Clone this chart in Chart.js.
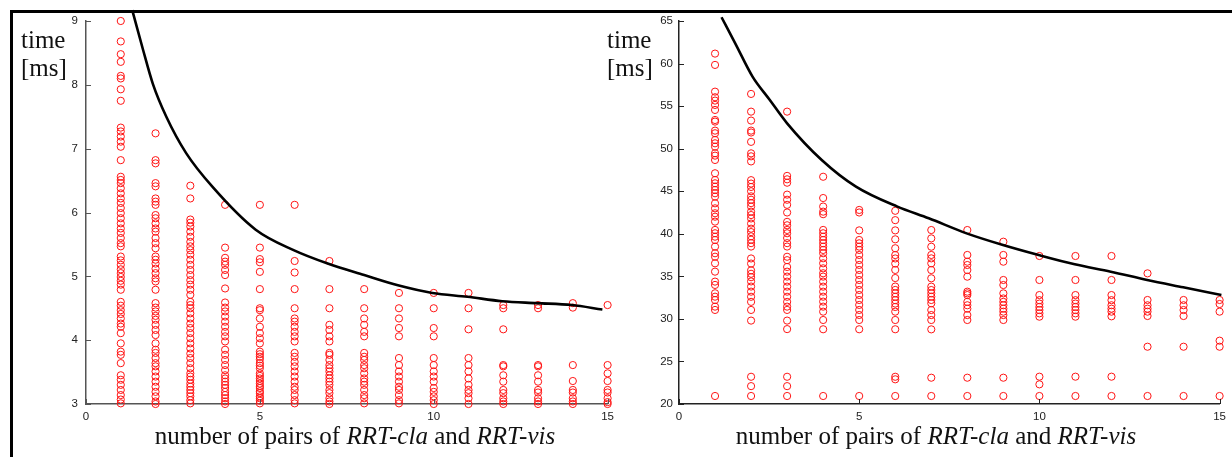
<!DOCTYPE html>
<html><head><meta charset="utf-8">
<script src="https://cdn.jsdelivr.net/npm/chart.js@4.4.1/dist/chart.umd.min.js"></script>
<style>
html,body{margin:0;padding:0;background:#fff;}
#wrap{position:relative;width:1232px;height:457px;overflow:hidden;background:#fff;}
.cv{position:absolute;top:0;}
.lbl{position:absolute;font-family:"Liberation Serif","Times New Roman",serif;font-size:25px;line-height:28px;color:#111;white-space:nowrap;}
.xl{text-align:center;width:500px;}
.frame{position:absolute;background:#000;}
</style></head>
<body><div id="wrap">
<div class="cv" style="left:0;width:620px;height:457px;"><canvas id="c1"></canvas></div>
<div class="cv" style="left:620px;width:612px;height:457px;"><canvas id="c2"></canvas></div>
<div class="lbl" style="left:21px;top:26px;">time<br>[ms]</div>
<div class="lbl" style="left:607px;top:26px;">time<br>[ms]</div>
<div class="lbl xl" style="left:105px;top:422px;">number of pairs of <i>RRT-cla</i> and <i>RRT-vis</i></div>
<div class="lbl xl" style="left:686px;top:422px;">number of pairs of <i>RRT-cla</i> and <i>RRT-vis</i></div>
<div class="frame" style="left:10px;top:10px;width:1222px;height:3px;"></div>
<div class="frame" style="left:10px;top:10px;width:3px;height:447px;"></div>
</div>
<script>
// ---- data: left panel (time in ms by number of pairs) ----
const pairs = [1,2,3,4,5,6,7,8,9,10,11,12,13,14,15];
const leftTimes = [
 [9.0,8.68,8.48,8.36,8.14,8.10,7.93,7.75,7.33,7.27,7.19,7.11,7.03,6.82,6.56,6.51,6.46,6.38,6.30,6.22,6.15,6.07,5.99,5.91,5.83,5.75,5.68,5.60,5.52,5.47,5.31,5.25,5.18,5.11,5.05,4.99,4.93,4.87,4.79,4.60,4.54,4.47,4.41,4.34,4.26,4.21,4.11,3.95,3.82,3.77,3.64,3.45,3.38,3.30,3.22,3.14,3.07,3.01],
 [7.24,6.82,6.77,6.46,6.41,6.22,6.17,6.12,5.96,5.91,5.83,5.75,5.70,5.60,5.52,5.44,5.31,5.26,5.20,5.12,5.05,4.97,4.92,4.79,4.58,4.51,4.45,4.38,4.32,4.24,4.16,4.08,3.95,3.85,3.80,3.72,3.64,3.59,3.51,3.43,3.35,3.27,3.19,3.12,3.04,3.0],
 [6.42,6.22,5.89,5.84,5.78,5.70,5.62,5.54,5.47,5.41,5.34,5.26,5.18,5.10,5.02,4.94,4.87,4.79,4.71,4.60,4.55,4.50,4.42,4.34,4.26,4.19,4.11,4.03,3.95,3.87,3.79,3.72,3.64,3.56,3.48,3.43,3.38,3.32,3.27,3.22,3.17,3.12,3.06,3.01],
 [6.12,5.45,5.29,5.23,5.18,5.10,5.02,4.81,4.59,4.51,4.45,4.37,4.29,4.21,4.13,4.06,3.98,3.85,3.77,3.69,3.61,3.53,3.45,3.40,3.35,3.30,3.25,3.19,3.14,3.09,3.04,3.0],
 [6.12,5.45,5.27,5.22,5.07,4.80,4.50,4.47,4.34,4.21,4.11,4.03,3.95,3.82,3.78,3.74,3.70,3.64,3.60,3.56,3.48,3.44,3.40,3.36,3.32,3.28,3.25,3.20,3.17,3.12,3.09,3.05,3.01],
 [6.12,5.24,5.06,4.80,4.50,4.34,4.29,4.21,4.13,4.06,3.98,3.80,3.74,3.66,3.59,3.51,3.43,3.35,3.27,3.22,3.14,3.06,3.01],
 [5.24,4.80,4.50,4.24,4.16,4.06,3.98,3.80,3.77,3.69,3.61,3.56,3.51,3.45,3.40,3.35,3.30,3.22,3.17,3.09,3.04,3.0],
 [4.80,4.50,4.34,4.24,4.13,4.06,3.80,3.74,3.69,3.61,3.56,3.48,3.40,3.35,3.30,3.22,3.14,3.09,3.01],
 [4.74,4.50,4.34,4.19,4.06,3.72,3.61,3.51,3.43,3.35,3.27,3.22,3.14,3.06,3.01],
 [4.74,4.50,4.19,4.06,3.72,3.61,3.51,3.43,3.35,3.25,3.19,3.12,3.06,3.0],
 [4.74,4.50,4.17,3.72,3.61,3.51,3.40,3.30,3.22,3.17,3.09,3.0],
 [4.55,4.50,4.17,3.61,3.59,3.45,3.35,3.22,3.17,3.09,3.04,3.0],
 [4.55,4.50,3.61,3.59,3.45,3.35,3.22,3.18,3.09,3.04,3.0],
 [4.58,4.51,3.61,3.36,3.22,3.18,3.09,3.04,3.0],
 [4.55,3.61,3.48,3.36,3.22,3.18,3.09,3.03,3.0]
];
const leftCurveX = [1.33,1.64,1.92,2.31,2.88,3.64,4.88,5.97,6.95,8.0,8.97,9.96,10.97,11.97,12.97,13.97,14.85];
const leftCurveY = [9.17,8.55,8.02,7.50,6.93,6.40,5.73,5.41,5.20,5.02,4.86,4.74,4.68,4.61,4.58,4.55,4.48];
const leftYTicks = [3,4,5,6,7,8,9];

// ---- data: right panel ----
const rightTimes = [
 [61.17,59.84,56.70,56.04,55.65,55.14,54.55,53.37,53.18,52.12,51.81,51.02,50.63,50.24,49.46,49.18,48.67,47.11,46.32,45.93,45.54,45.15,44.76,44.37,43.58,42.99,42.41,42.01,41.43,40.45,40.06,39.66,39.27,38.49,37.71,37.31,36.53,35.55,34.38,33.99,33.01,32.61,32.22,31.44,31.05,20.94],
 [56.43,54.35,53.30,52.12,51.9,50.8,49.45,49.1,48.5,46.3,45.9,45.5,45.0,44.4,44.0,43.6,43.2,42.6,42.2,41.8,41.2,40.6,40.2,39.7,39.3,38.9,38.5,37.1,36.5,35.7,35.3,34.9,34.4,33.8,33.2,32.6,32.0,31.05,29.8,23.2,22.1,20.94],
 [54.35,46.8,46.4,46.0,44.6,44.0,43.4,42.5,41.4,41.0,40.45,40.06,39.5,38.9,38.5,37.3,36.9,36.1,35.55,34.97,34.38,33.79,33.2,32.6,32.0,31.44,31.05,29.8,28.8,23.2,22.1,20.94],
 [46.7,44.2,43.2,42.6,42.3,40.45,40.06,39.66,39.27,38.88,38.49,38.10,37.71,37.12,36.53,35.94,35.36,34.97,34.38,33.79,33.20,32.61,32.03,31.44,30.85,29.87,28.78,20.94],
 [42.8,42.5,40.4,39.27,38.88,38.49,38.10,37.51,36.92,36.34,35.75,35.16,34.57,33.99,33.40,32.81,32.22,31.64,31.05,30.46,29.87,28.78,20.94],
 [42.7,41.6,40.4,39.35,38.3,37.5,37.1,36.5,35.75,34.8,33.8,33.4,33.0,32.6,32.2,31.8,31.4,30.85,29.87,28.78,23.2,22.9,20.94],
 [40.44,39.46,38.48,37.51,37.11,36.53,35.74,34.77,33.79,33.39,33.0,32.61,32.22,31.83,31.04,30.45,29.87,28.77,23.09,20.94],
 [40.44,37.51,36.72,36.33,35.74,34.96,33.2,33.0,32.8,32.0,31.6,31.2,30.45,29.87,23.09,20.94],
 [39.07,37.51,36.72,34.57,33.98,33.0,32.4,32.0,31.6,31.2,30.85,30.45,29.87,23.09,20.94],
 [37.39,34.57,32.8,32.2,31.8,31.4,31.04,30.65,30.26,23.21,22.31,20.94],
 [37.39,34.57,32.8,32.2,31.8,31.4,31.04,30.65,30.26,23.21,20.94],
 [37.39,34.57,32.8,32.2,31.6,31.2,30.85,30.3,23.21,20.94],
 [35.35,32.22,31.6,31.2,30.85,30.34,26.73,20.94],
 [32.22,31.6,31.04,30.34,26.73,20.94],
 [32.22,31.75,30.85,27.44,26.73,20.94]
];
const rightCurveX = [1.18,1.56,2.04,2.52,3.0,3.96,4.91,6.06,6.93,7.98,8.99,9.98,10.98,11.98,12.99,13.99,15.05];
const rightCurveY = [65.44,62.38,58.47,55.72,52.98,48.67,45.54,43.19,41.82,40.05,38.68,37.5,36.41,35.55,34.57,33.71,32.81];
const rightYTicks = [20,25,30,35,40,45,50,55,60,65];
const xTicks = [0,5,10,15];

// ---- helpers ----
function scatterPoints(times){
  const pts = [];
  times.forEach((col,i)=>col.forEach(v=>pts.push({x:pairs[i], y:v})));
  return pts;
}
function curvePoints(xs, ys){ return xs.map((x,i)=>({x:x, y:ys[i]})); }

const inwardTicks = {
  id:'inwardTicks',
  afterDatasetsDraw(chart, args, opts){
    const ctx = chart.ctx, xs = chart.scales.x, ys = chart.scales.y, a = chart.chartArea;
    ctx.save();
    ctx.strokeStyle = opts.color; ctx.lineWidth = 1;
    ctx.beginPath();
    xs.ticks.forEach(t=>{ const p = Math.round(xs.getPixelForValue(t.value))+0.5; ctx.moveTo(p, a.bottom); ctx.lineTo(p, a.bottom-5); });
    ys.ticks.forEach(t=>{ const p = Math.round(ys.getPixelForValue(t.value))+0.5; ctx.moveTo(a.left, p); ctx.lineTo(a.left+5, p); });
    ctx.stroke();
    ctx.restore();
  }
};

function makeChart(id, times, cx, cy, yMin, yMax, yTicks, axisW, padRight, axisColor, labelPad){
  const tickFont = {family:"'Liberation Sans', Arial, sans-serif", size:11.5};
  return new Chart(document.getElementById(id), {
    type:'scatter',
    data:{datasets:[
      {data: scatterPoints(times), pointStyle:'circle', pointRadius:3.6, pointHoverRadius:3.6,
       borderColor:'rgb(255,20,20)', backgroundColor:'rgba(0,0,0,0)', pointBorderWidth:1, borderWidth:1, clip:false, order:2},
      {data: curvePoints(cx, cy), showLine:true, pointRadius:0, borderColor:'#000', borderWidth:2.6,
       cubicInterpolationMode:'monotone', fill:false, clip:false, order:1}
    ]},
    options:{
      responsive:true, maintainAspectRatio:false, animation:false,
      layout:{padding:{top:21, right:padRight, bottom:0, left:0}},
      plugins:{legend:{display:false}, tooltip:{enabled:false}, inwardTicks:{color:axisColor}},
      scales:{
        x:{type:'linear', min:0, max:15,
           grid:{display:false, drawTicks:false},
           border:{display:true, color:axisColor, width:1.5},
           afterBuildTicks(s){ s.ticks = xTicks.map(v=>({value:v})); },
           ticks:{color:'#222', font:tickFont, padding:6, maxRotation:0, autoSkip:false},
           afterFit(s){ s.height = 53; }},
        y:{type:'linear', min:yMin, max:yMax,
           grid:{display:false, drawTicks:false},
           border:{display:true, color:axisColor, width:1.5},
           afterBuildTicks(s){ s.ticks = yTicks.map(v=>({value:v})); },
           ticks:{color:'#222', font:tickFont, padding:labelPad, autoSkip:false},
           afterFit(s){ s.width = axisW; }}
      }
    },
    plugins:[inwardTicks]
  });
}

makeChart('c1', leftTimes, leftCurveX, leftCurveY, 3, 9, leftYTicks, 86, 10, '#555', 8);
makeChart('c2', rightTimes, rightCurveX, rightCurveY, 20, 65, rightYTicks, 59, 11, '#222', 6);
</script>
</body></html>
